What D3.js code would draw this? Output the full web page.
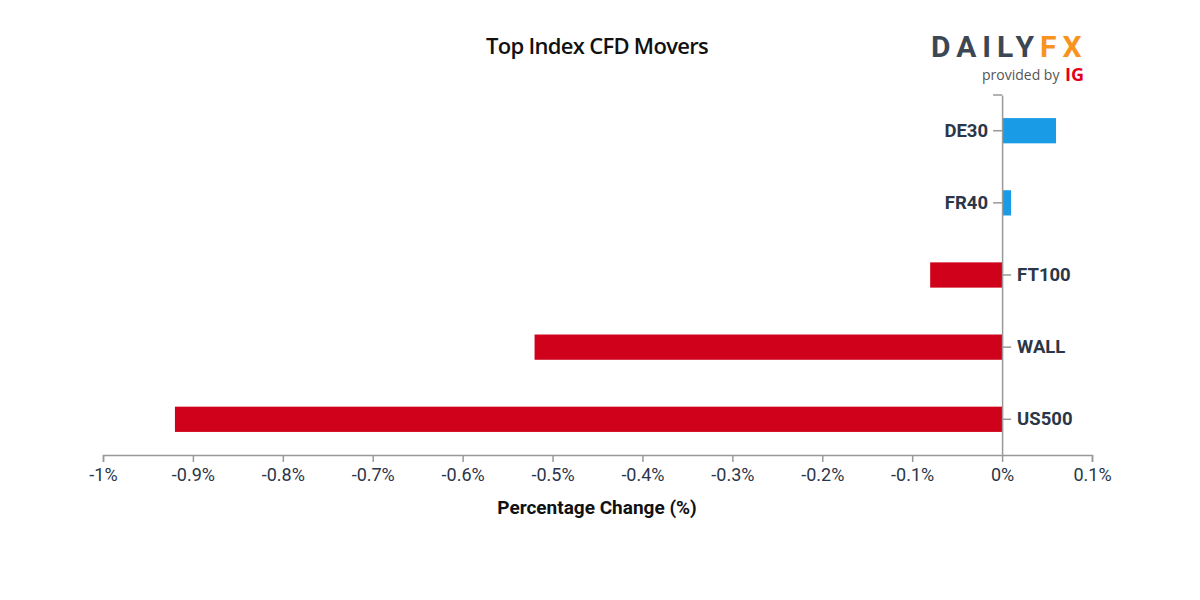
<!DOCTYPE html>
<html><head><meta charset="utf-8">
<script src="https://cdn.jsdelivr.net/npm/d3@7"></script>
<style>body{margin:0;background:#fff;}svg{display:block;}</style>
</head><body>
<svg id="c" width="1200" height="600"></svg>
<script>
const categories = ["DE30","FR40","FT100","WALL","US500"];
const values = [0.06, 0.01, -0.08, -0.52, -0.92];
const xTicks = [-1,-0.9,-0.8,-0.7,-0.6,-0.5,-0.4,-0.3,-0.2,-0.1,0,0.1];
const title = "Top Index CFD Movers";
const xTitle = "Percentage Change (%)";

const svg = d3.select("#c");
const m = {left:103, right:1092, top:95, bottom:455};
const x = d3.scaleLinear().domain([-1,0.1]).range([m.left,m.right]);
const y = d3.scaleBand().domain(categories).range([m.top,m.bottom]).paddingInner(0.65).paddingOuter(0.32);
const text = "#2b3648", axisCol = "#999";

svg.append("text").attr("x",597).attr("y",54).attr("text-anchor","middle")
  .attr("font-family","'Open Sans', sans-serif").attr("font-weight",600).attr("font-size",22)
  .attr("letter-spacing","-0.7").attr("fill","#111").text(title);

// bars
svg.selectAll("rect.bar").data(categories).join("rect")
  .attr("x",(d,i)=>x(Math.min(0,values[i])))
  .attr("width",(d,i)=>Math.abs(x(values[i])-x(0)))
  .attr("y",d=>y(d)).attr("height",y.bandwidth())
  .attr("fill",(d,i)=>values[i]>=0?"#1a9be6":"#d0021b");

// x axis
const gx = svg.append("g").attr("transform",`translate(0,${m.bottom})`)
  .call(d3.axisBottom(x).tickValues(xTicks).tickSize(7).tickSizeOuter(7).tickPadding(6)
    .tickFormat(d=>String(+d.toFixed(1))+"%"));
gx.selectAll("path,line").attr("stroke",axisCol).attr("stroke-width",1.5);
gx.selectAll("text").attr("font-family","Roboto, sans-serif").attr("font-size",18).attr("fill",text);

// y axis at zero
const gy = svg.append("g").attr("transform",`translate(${x(0)},0)`)
  .call(d3.axisLeft(y).tickSize(9).tickSizeOuter(0).tickPadding(5));
gy.select("path").attr("stroke",axisCol).attr("stroke-width",1.5);
gy.append("line").attr("x1",-9).attr("x2",0).attr("y1",m.top).attr("y2",m.top).attr("stroke",axisCol).attr("stroke-width",1.5);
gy.selectAll(".tick").each(function(d){
  const i = categories.indexOf(d);
  const g = d3.select(this);
  g.select("line").attr("stroke",axisCol).attr("stroke-width",1.5);
  const t = g.select("text").attr("font-family","Roboto, sans-serif").attr("font-weight",700)
    .attr("font-size",18.5).attr("fill",text);
  if(values[i] < 0){
    g.select("line").attr("x2",9);
    t.attr("x",15).attr("text-anchor","start");
  } else {
    t.attr("x",-14);
  }
});

// axis title
svg.append("text").attr("x",597).attr("y",514).attr("text-anchor","middle")
  .attr("font-family","Roboto, sans-serif").attr("font-weight",700).attr("font-size",19)
  .attr("fill","#111").text(xTitle);

// logo
const logo = svg.append("g");
logo.append("text").attr("x",931).attr("y",57).attr("font-family","Roboto, sans-serif")
  .attr("font-weight",700).attr("font-size",30).attr("letter-spacing","6")
  .selectAll("tspan").data([["DAILY","#3d4753"],["FX","#f7931e"]]).join("tspan")
  .attr("fill",d=>d[1]).text(d=>d[0]);
logo.append("text").attr("x",982).attr("y",80).attr("font-family","'Open Sans', sans-serif")
  .attr("font-size",14).attr("fill","#555").text("provided by");
logo.append("text").attr("x",1065).attr("y",81).attr("font-family","'Open Sans', sans-serif")
  .attr("font-weight",700).attr("font-size",18).attr("fill","#e4001b").text("IG");
</script>
</body></html>
